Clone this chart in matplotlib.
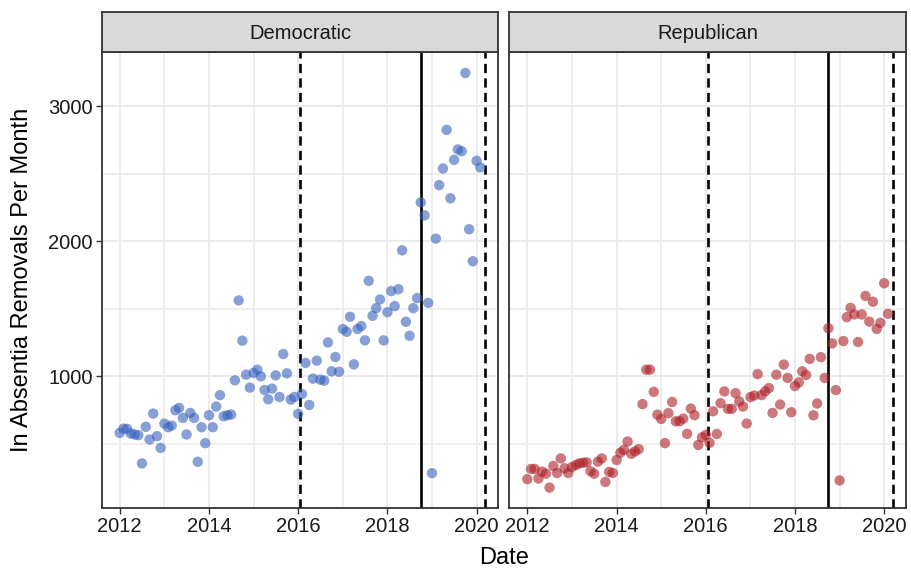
import matplotlib
matplotlib.use('Agg')
import matplotlib.pyplot as plt
import matplotlib.dates as mdates
from matplotlib.ticker import MultipleLocator
import pandas as pd

plt.rcParams['font.family'] = ['Liberation Sans', 'DejaVu Sans']

# monthly in absentia removals, Jan 2012 - Feb 2020
start_month = '2012-01-01'
dem_removals = [581, 613, 611, 576, 569, 564, 355, 626, 532, 724, 557, 470,
                650, 623, 635, 749, 766, 692, 569, 729, 692, 367, 623, 505,
                712, 623, 776, 860, 704, 712, 717, 970, 1562, 1264, 1012, 916,
                1025, 1049, 1000, 899, 830, 909, 1007, 847, 1165, 1022, 828, 847,
                722, 869, 1099, 788, 983, 1116, 975, 968, 1251, 1037, 1143, 1034,
                1350, 1330, 1441, 1089, 1350, 1372, 1266, 1707, 1448, 1505, 1569, 1266,
                1475, 1631, 1520, 1645, 1933, 1404, 1300, 1505, 1579, 2288, 2192, 1544,
                283, 2020, 2416, 2539, 2825, 2318, 2603, 2680, 2667, 3246, 2089, 1852,
                2596, 2547]
rep_removals = [238, 314, 314, 243, 294, 279, 176, 336, 284, 392, 319, 284,
                328, 343, 355, 360, 363, 297, 279, 368, 392, 218, 292, 284,
                380, 434, 456, 517, 426, 444, 461, 794, 1049, 1049, 885, 716,
                684, 505, 727, 810, 667, 667, 687, 574, 761, 712, 492, 548,
                566, 508, 741, 573, 801, 888, 759, 759, 875, 814, 776, 650,
                846, 858, 1017, 861, 888, 913, 729, 1012, 791, 1087, 988, 734,
                928, 955, 1037, 1010, 1129, 711, 799, 1142, 988, 1356, 1244, 898,
                229, 1261, 1438, 1507, 1458, 1254, 1458, 1595, 1405, 1552, 1351, 1396,
                1689, 1463]

panels = ['Democratic', 'Republican']
point_colors = ['#3761BC', '#AC1E26']
event_dates = ['2016-01-20', '2018-10-01', '2020-03-12']
event_styles = ['dashed', 'solid', 'dashed']

months = pd.date_range(start_month, periods=len(dem_removals), freq='MS')
series = [dem_removals, rep_removals]

# ggplot-like 5% expansion
x0 = mdates.date2num(months[0])
x1 = mdates.date2num(months[-1])
xpad = 0.05 * (x1 - x0)
all_vals = dem_removals + rep_removals
ypad = 0.05 * (max(all_vals) - min(all_vals))

fig = plt.figure(figsize=(9.11, 5.73), dpi=100)

W, H = 911, 573
panel_left = [101.7, 509.3]
panel_w = 396.7
panel_top, panel_bot = 52.3, 508.3
strip_top = 12.3
border = '#333333'

for i, name in enumerate(panels):
    l = panel_left[i] / W
    ax = fig.add_axes([l, 1 - panel_bot / H, panel_w / W, (panel_bot - panel_top) / H])
    ax.set_axisbelow(True)
    ax.grid(which='major', color='#EBEBEB', lw=1.4)
    ax.grid(which='minor', color='#EBEBEB', lw=1.2)

    for d, st in zip(event_dates, event_styles):
        xd = mdates.date2num(pd.Timestamp(d))
        if st == 'dashed':
            ax.axvline(xd, color='black', lw=1.9, dashes=(3.5, 2), zorder=2)
        else:
            ax.axvline(xd, color='black', lw=1.9, zorder=2)

    ax.scatter(months, series[i], s=56, color=point_colors[i], alpha=0.6,
               edgecolors='none', zorder=3)

    ax.set_xlim(x0 - xpad, x1 + xpad)
    ax.set_ylim(min(all_vals) - ypad, max(all_vals) + ypad)

    ax.xaxis.set_major_locator(mdates.YearLocator(2))
    ax.xaxis.set_minor_locator(mdates.YearLocator(1))
    ax.xaxis.set_major_formatter(mdates.DateFormatter('%Y'))
    ax.yaxis.set_major_locator(MultipleLocator(1000))
    ax.yaxis.set_minor_locator(MultipleLocator(500))

    ax.tick_params(which='major', length=4.3, width=1.0, color=border,
                   labelsize=14.5, labelcolor='#1a1a1a', pad=2)
    ax.tick_params(which='minor', length=0)
    if i == 1:
        ax.tick_params(axis='y', which='both', length=0, labelleft=False)

    for sp in ax.spines.values():
        sp.set_color(border)
        sp.set_linewidth(1.3)

    # facet strip
    sax = fig.add_axes([l, 1 - panel_top / H, panel_w / W, (panel_top - strip_top) / H])
    sax.set_facecolor('#D9D9D9')
    sax.set_xticks([])
    sax.set_yticks([])
    for sp in sax.spines.values():
        sp.set_color(border)
        sp.set_linewidth(1.3)
    sax.text(0.5, 0.48, name, ha='center', va='center', fontsize=14.5,
             color='#1a1a1a', transform=sax.transAxes)

fig.text((panel_left[0] + panel_left[1] + panel_w) / 2 / W, 1 - 558 / H, 'Date',
         ha='center', va='center', fontsize=17)
fig.text(22 / W, 1 - (panel_top + panel_bot) / 2 / H, 'In Absentia Removals Per Month',
         ha='center', va='center', rotation=90, fontsize=17)

fig.savefig('out.png', dpi=100)
